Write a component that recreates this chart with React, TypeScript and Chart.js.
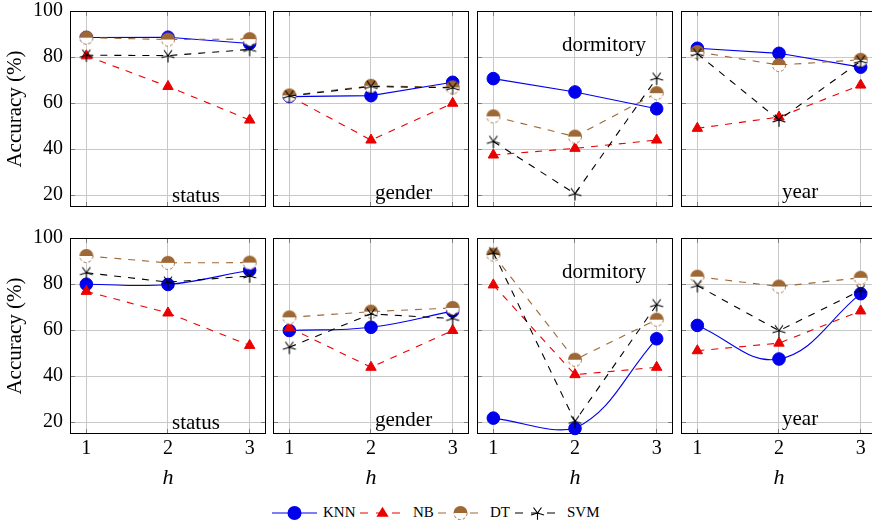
import React, { useEffect, useRef } from 'react';
import { Chart, registerables } from 'chart.js';

Chart.register(...registerables);

// ---------------- data ----------------
const H_VALUES = [1, 2, 3];
const Y_TICKS = [20, 40, 60, 80, 100];
const PANEL_NAMES = ['status', 'gender', 'dormitory', 'year'];
const SERIES_NAMES = ['KNN', 'NB', 'DT', 'SVM'];

// top row (index = panel: status, gender, dormitory, year)
const KNN_TOP = [[88.5, 88.6, 85.9], [62.8, 63.2, 69.0], [70.6, 64.8, 57.5], [83.8, 81.6, 75.6]];
const NB_TOP = [[80.5, 67.2, 52.6], [63.0, 43.9, 59.9], [37.4, 40.3, 43.9], [49.0, 53.9, 67.8]];
const DT_TOP = [[88.4, 87.6, 87.8], [63.3, 67.5, 66.8], [54.2, 45.4, 64.3], [82.2, 76.5, 78.8]];
const SVM_TOP = [[80.8, 80.6, 83.3], [63.0, 67.2, 66.6], [43.3, 20.6, 70.8], [81.4, 52.6, 78.2]];

// bottom row
const KNN_BOTTOM = [[79.9, 79.8, 86.0], [59.8, 61.2, 68.2], [21.7, 17.2, 56.2], [62.0, 47.4, 75.8]];
const NB_BOTTOM = [[76.8, 67.4, 53.3], [61.0, 43.8, 59.8], [79.6, 40.6, 43.8], [51.0, 54.3, 68.3]];
const DT_BOTTOM = [[92.2, 89.2, 89.3], [65.5, 68.0, 69.6], [92.8, 47.1, 64.5], [83.2, 78.9, 82.7]];
const SVM_BOTTOM = [[84.9, 80.8, 83.5], [52.5, 67.0, 65.0], [93.6, 20.3, 71.0], [79.3, 59.7, 77.2]];

// ---------------- style / layout ----------------
const FONT = '"Liberation Serif", "Times New Roman", serif';
const BLUE = 'rgb(0,0,235)';
const RED = 'rgb(235,0,0)';
const BROWN = 'rgb(158,104,52)';
const BLACK = '#000';
const GRID = 'rgb(200,200,200)';
const TICK_MARK = 'rgb(125,125,125)';

const PLOT_LEFT = [70, 273, 477, 681];
const PLOT_TOP = [11, 238];
const PLOT = 196;
const X_MIN = 0.8;
const X_MAX = 3.2;
const Y_MIN = 14.8;
const Y_MAX = 100;

const LABEL_POS = [
  { dx: 102, fromTop: false, dy: -5 },
  { dx: 102, fromTop: false, dy: -8 },
  { dx: 85, fromTop: true, dy: 40 },
  { dx: 101, fromTop: false, dy: -9 },
];

function makeDTMarker(): HTMLCanvasElement {
  const c = document.createElement('canvas');
  c.width = 18;
  c.height = 18;
  const g = c.getContext('2d')!;
  const cx = 9, cy = 9, r = 7;
  g.beginPath();
  g.arc(cx, cy, r, 0, Math.PI);
  g.closePath();
  g.fillStyle = '#fff';
  g.fill();
  g.setLineDash([3, 2]);
  g.strokeStyle = BROWN;
  g.lineWidth = 0.9;
  g.beginPath();
  g.arc(cx, cy, r - 0.45, 0, Math.PI);
  g.stroke();
  g.setLineDash([]);
  g.beginPath();
  g.arc(cx, cy, r, Math.PI, 2 * Math.PI);
  g.closePath();
  g.fillStyle = BROWN;
  g.fill();
  return c;
}

function starRays(cx: number, cy: number, r: number): [number, number, number, number][] {
  const out: [number, number, number, number][] = [];
  for (let k = 0; k < 5; k++) {
    const a = Math.PI / 2 + (k * 2 * Math.PI) / 5;
    out.push([cx, cy, cx + r * Math.cos(a), cy + r * Math.sin(a)]);
  }
  return out;
}

function makeStarMarker(): HTMLCanvasElement {
  const c = document.createElement('canvas');
  c.width = 18;
  c.height = 18;
  const g = c.getContext('2d')!;
  g.strokeStyle = BLACK;
  g.lineWidth = 1.1;
  g.beginPath();
  for (const [x1, y1, x2, y2] of starRays(9, 9, 6.8)) {
    g.moveTo(x1, y1);
    g.lineTo(x2, y2);
  }
  g.stroke();
  return c;
}

function Panel({ row, col }: { row: number; col: number }) {
  const ref = useRef<HTMLCanvasElement>(null);
  const padL = col === 0 ? 70 : 4;
  const padR = 4;
  const padT = row === 0 ? 11 : 12;
  const padB = row === 0 ? 6 : 57;
  const w = padL + PLOT + padR;
  const h = padT + PLOT + padB;

  useEffect(() => {
    const canvas = ref.current!;
    const series = row === 0
      ? [KNN_TOP, NB_TOP, DT_TOP, SVM_TOP]
      : [KNN_BOTTOM, NB_BOTTOM, DT_BOTTOM, SVM_BOTTOM];
    const pts = (arr: number[][]) => H_VALUES.map((x, i) => ({ x, y: arr[col][i] }));
    const dt = makeDTMarker();
    const star = makeStarMarker();
    const label = PANEL_NAMES[col];
    const lp = LABEL_POS[col];

    const framePlugin = {
      id: 'frame',
      beforeDatasetsDraw(chart: any) {
        const { ctx, chartArea: a } = chart;
        const xs = chart.scales.x;
        const ys = chart.scales.y;
        ctx.save();
        ctx.strokeStyle = TICK_MARK;
        ctx.lineWidth = 1;
        ctx.beginPath();
        H_VALUES.forEach((v) => {
          const x = Math.round(xs.getPixelForValue(v) - 0.5) + 0.5;
          ctx.moveTo(x, a.top);
          ctx.lineTo(x, a.top + 5);
          ctx.moveTo(x, a.bottom);
          ctx.lineTo(x, a.bottom - 5);
        });
        Y_TICKS.forEach((v) => {
          const y = Math.round(ys.getPixelForValue(v) - 0.5) + 0.5;
          ctx.moveTo(a.left, y);
          ctx.lineTo(a.left + 5, y);
          ctx.moveTo(a.right, y);
          ctx.lineTo(a.right - 5, y);
        });
        ctx.stroke();
        ctx.strokeStyle = BLACK;
        ctx.strokeRect(a.left + 0.5, a.top + 0.5, a.right - a.left - 1, a.bottom - a.top - 1);
        ctx.fillStyle = '#000';
        ctx.font = `21px ${FONT}`;
        ctx.textAlign = 'left';
        ctx.textBaseline = 'alphabetic';
        const ty = lp.fromTop ? a.top + lp.dy : a.bottom + lp.dy;
        ctx.fillText(label, a.left + lp.dx, ty);
        ctx.restore();
      },
    };

    const common = { borderWidth: 1.1, clip: false as any, pointBorderWidth: 1 };

    const chart = new Chart(canvas, {
      type: 'line',
      data: {
        datasets: [
          {
            ...common,
            label: SERIES_NAMES[0],
            data: pts(series[0]),
            borderColor: BLUE,
            backgroundColor: BLUE,
            pointBackgroundColor: BLUE,
            pointBorderColor: BLUE,
            pointStyle: 'circle',
            pointRadius: 6.3,
            tension: row === 1 ? 0.4 : 0,
            order: 4,
          },
          {
            ...common,
            label: SERIES_NAMES[1],
            data: pts(series[1]),
            borderColor: RED,
            backgroundColor: RED,
            pointBackgroundColor: RED,
            pointBorderColor: RED,
            borderDash: [7, 7],
            pointStyle: 'triangle',
            pointRadius: 6,
            order: 3,
          },
          {
            ...common,
            label: SERIES_NAMES[2],
            data: pts(series[2]),
            borderColor: BROWN,
            backgroundColor: BROWN,
            borderDash: [7, 7],
            pointStyle: dt as any,
            pointRadius: 7,
            order: 2,
          },
          {
            ...common,
            label: SERIES_NAMES[3],
            data: pts(series[3]),
            borderColor: BLACK,
            backgroundColor: BLACK,
            borderDash: [7, 7],
            pointStyle: star as any,
            pointRadius: 7,
            order: 1,
          },
        ],
      },
      options: {
        animation: false,
        responsive: false,
        maintainAspectRatio: false,
        devicePixelRatio: 1,
        events: [],
        layout: {
          autoPadding: false,
          padding: { left: col === 0 ? 0 : padL, right: padR, top: padT, bottom: row === 0 ? padB : 0 },
        },
        plugins: { legend: { display: false }, tooltip: { enabled: false } },
        scales: {
          x: {
            type: 'linear',
            min: X_MIN,
            max: X_MAX,
            bounds: 'data',
            afterBuildTicks: (s: any) => {
              s.ticks = H_VALUES.map((v) => ({ value: v }));
            },
            afterFit: (s: any) => {
              s.height = row === 1 ? 57 : 0;
              s.paddingLeft = 0;
              s.paddingRight = 0;
              s.paddingTop = 0;
              s.paddingBottom = 0;
            },
            grid: { color: GRID, lineWidth: 1, drawTicks: false },
            border: { display: false },
            ticks: {
              display: row === 1,
              padding: 3,
              color: '#000',
              maxRotation: 0,
              autoSkip: false,
              font: { family: FONT, size: 20 },
            },
            title: {
              display: row === 1,
              text: 'h',
              color: '#000',
              padding: 0,
              font: { family: FONT, size: 22, style: 'italic' },
            },
          },
          y: {
            type: 'linear',
            min: Y_MIN,
            max: Y_MAX,
            bounds: 'data',
            afterBuildTicks: (s: any) => {
              s.ticks = Y_TICKS.map((v) => ({ value: v }));
            },
            afterFit: (s: any) => {
              s.width = col === 0 ? 70 : 0;
              s.paddingLeft = 0;
              s.paddingRight = 0;
              s.paddingTop = 0;
              s.paddingBottom = 0;
            },
            grid: { color: GRID, lineWidth: 1, drawTicks: false },
            border: { display: false },
            ticks: {
              display: col === 0,
              padding: 7,
              color: '#000',
              autoSkip: false,
              font: { family: FONT, size: 20 },
            },
            title: {
              display: col === 0,
              text: 'Accuracy (%)',
              color: '#000',
              padding: { top: 3, bottom: 0 },
              font: { family: FONT, size: 21 },
            },
          },
        },
      },
      plugins: [framePlugin],
    } as any);
    return () => chart.destroy();
  }, [row, col]);

  return (
    <canvas
      ref={ref}
      width={w}
      height={h}
      style={{
        position: 'absolute',
        left: PLOT_LEFT[col] - padL,
        top: PLOT_TOP[row] - padT,
        width: w,
        height: h,
      }}
    />
  );
}

function Sample({ kind, left }: { kind: number; left: number }) {
  const cy = 9;
  const cx = 22.5;
  const colors = [BLUE, RED, BROWN, BLACK];
  const color = colors[kind];
  return (
    <svg
      width={45}
      height={18}
      style={{ position: 'absolute', left, top: 504, overflow: 'visible' }}
    >
      <line
        x1={0}
        y1={cy}
        x2={45}
        y2={cy}
        stroke={color}
        strokeWidth={1.1}
        strokeDasharray={kind === 0 ? undefined : '8 8'}
      />
      {kind === 0 && <circle cx={cx} cy={cy} r={7} fill={BLUE} />}
      {kind === 1 && (
        <polygon
          points={`${cx},${cy - 6.3} ${cx - 6.1},${cy + 3.8} ${cx + 6.1},${cy + 3.8}`}
          fill={RED}
        />
      )}
      {kind === 2 && (
        <g>
          <path
            d={`M${cx + 6.6},${cy} A6.6,6.6 0 0,1 ${cx - 6.6},${cy}`}
            fill="#fff"
            stroke={BROWN}
            strokeWidth={0.9}
            strokeDasharray="3 2"
          />
          <path d={`M${cx - 7},${cy} A7,7 0 0,1 ${cx + 7},${cy} Z`} fill={BROWN} />
        </g>
      )}
      {kind === 3 && (
        <g stroke={BLACK} strokeWidth={1.1}>
          {starRays(cx, cy, 6.8).map(([x1, y1, x2, y2], i) => (
            <line key={i} x1={x1} y1={y1} x2={x2} y2={y2} />
          ))}
        </g>
      )}
    </svg>
  );
}

const LEGEND_SAMPLE_LEFT = [272, 360, 438, 515];
const LEGEND_TEXT_LEFT = [323, 413, 490, 567];

export default function App() {
  const panels = [];
  for (let r = 0; r < 2; r++) {
    for (let c = 0; c < 4; c++) {
      panels.push(<Panel key={`${r}-${c}`} row={r} col={c} />);
    }
  }
  return (
    <div
      style={{
        position: 'absolute',
        left: 0,
        top: 0,
        width: 872,
        height: 524,
        overflow: 'hidden',
        background: '#fff',
      }}
    >
      {panels}
      {SERIES_NAMES.map((name, i) => (
        <React.Fragment key={name}>
          <Sample kind={i} left={LEGEND_SAMPLE_LEFT[i]} />
          <div
            style={{
              position: 'absolute',
              left: LEGEND_TEXT_LEFT[i],
              top: 504,
              height: 18,
              lineHeight: '18px',
              font: `15px ${FONT}`,
              color: '#000',
              whiteSpace: 'nowrap',
            }}
          >
            {name}
          </div>
        </React.Fragment>
      ))}
    </div>
  );
}
